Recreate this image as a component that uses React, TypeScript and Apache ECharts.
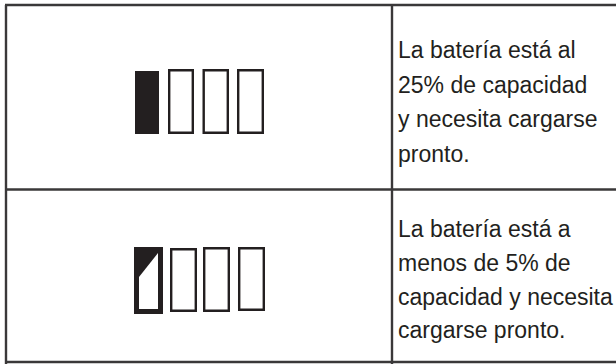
import React, { useEffect, useRef } from "react";
import * as echarts from "echarts";

const rowOneLines = ["La batería está al", "25% de capacidad", "y necesita cargarse", "pronto."];
const rowTwoLines = ["La batería está a", "menos de 5% de", "capacidad y necesita", "cargarse pronto."];
const INK = "#231f20";
const RULE = "#3a3839";

const line = (x1: number, y1: number, x2: number, y2: number, lineWidth = 2.4) => ({
  type: "line", shape: { x1, y1, x2, y2 }, style: { stroke: RULE, lineWidth },
});
const cell = (x: number, y: number, width: number, height: number, lineWidth = 2.4) => ({
  type: "rect",
  shape: { x: x + lineWidth / 2, y: y + lineWidth / 2, width: width - lineWidth, height: height - lineWidth },
  style: { fill: "#fff", stroke: INK, lineWidth },
});
const texts = (lines: string[], baseY: number, gap: number) =>
  lines.map((t, i) => ({
    type: "text", x: 398, y: baseY + i * gap,
    style: { text: t, fill: INK, font: '23px "Liberation Sans"' },
  }));

export default function App() {
  const ref = useRef<HTMLDivElement>(null);
  useEffect(() => {
    const chart = echarts.init(ref.current!, undefined, { renderer: "svg" });
    chart.setOption({
      animation: false,
      backgroundColor: "#fff",
      graphic: [
        line(5, 5, 616, 5), line(5, 189.5, 616, 189.5), line(5, 362, 616, 362),
        line(6, 5, 6, 364), line(392, 5, 392, 364),
        { type: "rect", shape: { x: 135, y: 71, width: 24, height: 63 }, style: { fill: INK } },
        cell(168, 69, 26, 65), cell(202.5, 69, 26.5, 65), cell(237, 69, 27, 65),
        { type: "rect", shape: { x: 134, y: 247, width: 29, height: 67 }, style: { fill: INK } },
        { type: "polygon", shape: { points: [[139, 277], [158, 253], [158, 309], [139, 309]] }, style: { fill: "#fff" } },
        cell(170, 248, 27, 64), cell(203, 247, 27, 65), cell(238, 247, 27, 64),
        ...texts(rowOneLines, 38.5, 34.5),
        ...texts(rowTwoLines, 217.5, 33.8),
      ],
    });
    return () => chart.dispose();
  }, []);
  return <div ref={ref} style={{ position: "fixed", left: 0, top: 0, width: 616, height: 364 }} />;
}
